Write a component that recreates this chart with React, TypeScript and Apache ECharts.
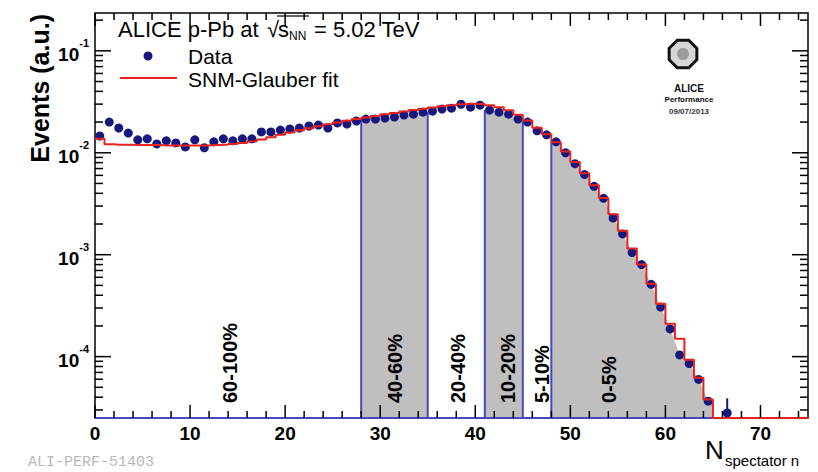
import React, { useEffect, useRef } from "react";
import * as echarts from "echarts";

// Spectator-neutron multiplicity, unit-width bins starting at 0 (value per bin)
const dataValues: (number | null)[] = [
  0.0146, 0.02, 0.0175, 0.0156, 0.0134, 0.0137, 0.0122, 0.0131, 0.0125, 0.0114,
  0.0134, 0.0112, 0.0128, 0.0137, 0.0131, 0.0137, 0.0137, 0.016, 0.016, 0.0167,
  0.0171, 0.0175, 0.0183, 0.0187, 0.0175, 0.0196, 0.0191, 0.0205, 0.0214, 0.0214,
  0.0219, 0.0224, 0.0234, 0.0239, 0.025, 0.0256, 0.0268, 0.0274, 0.0299, 0.028,
  0.0293, 0.0262, 0.025, 0.0239, 0.0214, 0.02, 0.0164, 0.015, 0.0128, 0.01,
  0.00782, 0.00611, 0.00468, 0.00357, 0.00229, 0.0016, 0.00105, 0.0008, 0.000512, 0.000306,
  0.000187, 0.000104, 0.0000855, 0.0000598, 0.0000366, null, 0.000028,
];
// upper error of the last populated bin
const lastBinErrorUp = 0.000011;

// SNM-Glauber fit, one value per bin (0..74); the tail sits on the axis floor
const fitValues: number[] = [
  0.0137, 0.0121, 0.012, 0.012, 0.0119, 0.0119, 0.0119, 0.0118, 0.0118, 0.0118,
  0.0118, 0.0118, 0.0119, 0.012, 0.0122, 0.0125, 0.0129, 0.0135, 0.0142, 0.015,
  0.0158, 0.0166, 0.0174, 0.0182, 0.019, 0.0198, 0.0206, 0.0214, 0.0222, 0.023,
  0.0238, 0.0246, 0.0254, 0.0262, 0.027, 0.0278, 0.0286, 0.0293, 0.0299, 0.0302,
  0.03, 0.0292, 0.0279, 0.0261, 0.0236, 0.0207, 0.0176, 0.0152, 0.0127, 0.0103,
  0.0081, 0.0063, 0.0048, 0.0036, 0.0025, 0.00172, 0.00115, 0.0008, 0.00052, 0.00033,
  0.00021, 0.00015, 0.000093, 0.000062, 0.000038, 0.000025, 0.000025, 0.000025, 0.000025, 0.000025,
  0.000025, 0.000025, 0.000025, 0.000025, 0.000025,
];

// centrality class boundaries (in N) and the shaded classes
const classEdges = [28, 35, 41, 45, 48];
const shadedClasses: [number, number][] = [
  [28, 35],
  [41, 45],
  [48, 65],
];
const classLabels = ["60-100%", "40-60%", "20-40%", "10-20%", "5-10%", "0-5%"];
const classLabelX = [230, 395, 458, 508, 542, 609];

// axis ranges and tick marks
const X_MIN = 0;
const X_MAX = 75;
const Y_MIN = 2.5e-5;
const Y_MAX = 0.235;
const xMajorTicks = [0, 10, 20, 30, 40, 50, 60, 70];
const xMinorTicks: number[] = [];
for (let v = 2; v < X_MAX; v += 2) if (v % 10 !== 0) xMinorTicks.push(v);
const yMajorTicks = [1e-4, 1e-3, 1e-2, 1e-1];
const yMinorTicks: number[] = [];
for (let e = -5; e <= -1; e++) {
  for (let m = 2; m <= 9; m++) {
    const v = m * Math.pow(10, e);
    if (v > Y_MIN && v < Y_MAX) yMinorTicks.push(v);
  }
}

const FONT = "'Liberation Sans', Arial, Helvetica, sans-serif";
const DATA_COLOR = "#17177e";
const FIT_COLOR = "#e8231e";
const CLASS_COLOR = "#4848c0";
const FILL_COLOR = "#bfbfbf";

function xTickRenderer(len: number) {
  return (params: any, api: any) => {
    const cs = params.coordSys;
    const p = api.coord([api.value(0), Y_MIN]);
    const bottom = cs.y + cs.height;
    const top = cs.y;
    return {
      type: "group",
      children: [
        { type: "line", shape: { x1: p[0], y1: bottom, x2: p[0], y2: bottom - len }, style: { stroke: "#000", lineWidth: 1.5 } },
        { type: "line", shape: { x1: p[0], y1: top, x2: p[0], y2: top + len }, style: { stroke: "#000", lineWidth: 1.5 } },
      ],
    };
  };
}

function yTickRenderer(len: number) {
  return (params: any, api: any) => {
    const cs = params.coordSys;
    const p = api.coord([X_MIN, api.value(1)]);
    const left = cs.x;
    const right = cs.x + cs.width;
    return {
      type: "group",
      children: [
        { type: "line", shape: { x1: left, y1: p[1], x2: left + len, y2: p[1] }, style: { stroke: "#000", lineWidth: 1.5 } },
        { type: "line", shape: { x1: right, y1: p[1], x2: right - len, y2: p[1] }, style: { stroke: "#000", lineWidth: 1.5 } },
      ],
    };
  };
}

function text(x: number, y: number, str: string, size: number, extra: any = {}, elExtra: any = {}) {
  return {
    type: "text",
    x,
    y,
    z: 100,
    ...elExtra,
    style: { text: str, fontFamily: FONT, fontSize: size, fill: "#000", align: "left", verticalAlign: "middle", ...extra },
  };
}

function buildOption() {
  const series: any[] = [];

  // shaded centrality classes, filled below the measured distribution
  shadedClasses.forEach(([a, b]) => {
    const pts: number[][] = [];
    const first = dataValues[a] as number;
    pts.push([a, first]);
    let last = first;
    for (let n = a; n < b; n++) {
      const v = dataValues[n];
      if (v == null) continue;
      pts.push([n + 0.5, v]);
      last = v;
    }
    pts.push([b, last]);
    series.push({
      type: "line",
      data: pts,
      symbol: "none",
      lineStyle: { width: 0 },
      areaStyle: { color: FILL_COLOR, opacity: 1, origin: "start" },
      silent: true,
      z: 1,
    });
  });

  // class boundaries
  classEdges.forEach((edge) => {
    const inside = shadedClasses.find(([a, b]) => edge === a || edge === b);
    let bin = edge;
    if (inside && edge === inside[1]) bin = edge - 1;
    const top = dataValues[bin] as number;
    series.push({
      type: "line",
      data: [
        [edge, Y_MIN],
        [edge, top],
      ],
      symbol: "none",
      lineStyle: { color: CLASS_COLOR, width: 2 },
      silent: true,
      clip: false,
      z: 2,
    });
  });

  // lower outline of the class histograms
  series.push({
    type: "line",
    data: [
      [X_MIN, Y_MIN],
      [shadedClasses[shadedClasses.length - 1][1], Y_MIN],
    ],
    symbol: "none",
    lineStyle: { color: CLASS_COLOR, width: 2 },
    silent: true,
    clip: false,
    z: 2,
  });

  // measured distribution
  const pts: number[][] = [];
  dataValues.forEach((v, i) => {
    if (v != null) pts.push([i + 0.5, v]);
  });
  series.push({
    type: "scatter",
    data: pts,
    symbol: "circle",
    symbolSize: 9,
    itemStyle: { color: DATA_COLOR, opacity: 1 },
    silent: true,
    z: 4,
  });
  const lastIdx = dataValues.length - 1;
  const lastVal = dataValues[lastIdx] as number;
  series.push({
    type: "line",
    data: [
      [lastIdx + 0.5, lastVal],
      [lastIdx + 0.5, lastVal + lastBinErrorUp],
    ],
    symbol: "none",
    lineStyle: { color: DATA_COLOR, width: 2 },
    silent: true,
    z: 4,
  });

  // fit histogram
  const fitPts: number[][] = [[X_MIN, fitValues[0]]];
  fitValues.forEach((v, i) => fitPts.push([i + 0.5, v]));
  fitPts.push([X_MAX, fitValues[fitValues.length - 1]]);
  series.push({
    type: "line",
    data: fitPts,
    step: "middle",
    symbol: "none",
    lineStyle: { color: FIT_COLOR, width: 2 },
    silent: true,
    clip: false,
    z: 5,
  });

  // frame ticks on all four sides
  series.push({ type: "custom", renderItem: xTickRenderer(13), data: xMajorTicks.map((v) => [v, Y_MIN]), silent: true, z: 6 });
  series.push({ type: "custom", renderItem: xTickRenderer(7), data: xMinorTicks.map((v) => [v, Y_MIN]), silent: true, z: 6 });
  series.push({ type: "custom", renderItem: yTickRenderer(16), data: yMajorTicks.map((v) => [X_MIN, v]), silent: true, z: 6 });
  series.push({ type: "custom", renderItem: yTickRenderer(8), data: yMinorTicks.map((v) => [X_MIN, v]), silent: true, z: 6 });

  // octagon of the experiment logo
  const oct: number[][] = [];
  for (let k = 0; k < 8; k++) {
    const a = (Math.PI / 8) * (2 * k + 1);
    oct.push([683 + 15 * Math.cos(a), 54 + 15 * Math.sin(a)]);
  }

  const graphic: any[] = [
    text(40, 14, "Events (a.u.)", 25, { fontWeight: "bold", align: "right" }, { rotation: Math.PI / 2 }),
    text(705, 463, "N", 26, { verticalAlign: "bottom" }),
    text(725, 468, "spectator n", 15, { verticalAlign: "bottom" }),
    text(28, 462, "ALI-PERF-51403", 15, { fontFamily: "'Liberation Mono', 'DejaVu Sans Mono', monospace", fill: "#b8b8b8" }),
    // header
    text(118, 29, "ALICE p-Pb at", 22),
    text(267, 29, "√", 22),
    { type: "line", z: 100, shape: { x1: 277, y1: 16, x2: 309, y2: 16 }, style: { stroke: "#000", lineWidth: 1.2 } },
    text(278, 29, "s", 22),
    text(289, 36, "NN", 12),
    text(314, 29, "= 5.02 TeV", 22),
    // legend
    { type: "circle", z: 100, shape: { cx: 148, cy: 56, r: 4.5 }, style: { fill: DATA_COLOR } },
    text(188, 56, "Data", 21),
    { type: "line", z: 100, shape: { x1: 120, y1: 78, x2: 177, y2: 78 }, style: { stroke: FIT_COLOR, lineWidth: 2 } },
    text(188, 79, "SNM-Glauber fit", 21),
    // logo
    { type: "polygon", z: 100, shape: { points: oct }, style: { fill: "#d6d6d6", stroke: "#111", lineWidth: 3 } },
    { type: "circle", z: 100, shape: { cx: 683, cy: 54, r: 6 }, style: { fill: "#9a9a9a" } },
    text(689, 88, "ALICE", 10, { fontWeight: "bold", align: "center", fill: "#111" }),
    text(689, 99, "Performance", 8, { fontWeight: "bold", align: "center", fill: "#111" }),
    text(689, 111, "09/07/2013", 8, { fontWeight: "bold", align: "center", fill: "#333" }),
  ];

  classLabels.forEach((label, i) => {
    graphic.push(text(classLabelX[i], 403, label, 20, { fontWeight: "bold" }, { rotation: Math.PI / 2 }));
  });

  return {
    animation: false,
    grid: {
      left: 95,
      right: 10,
      top: 13,
      bottom: 54,
      show: true,
      borderColor: "#000",
      borderWidth: 1.5,
      backgroundColor: "transparent",
    },
    xAxis: {
      type: "value",
      min: X_MIN,
      max: X_MAX,
      interval: 10,
      axisLine: { show: false },
      axisTick: { show: false },
      splitLine: { show: false },
      axisLabel: {
        margin: 6,
        fontFamily: FONT,
        fontWeight: "bold",
        fontSize: 19,
        color: "#000",
        showMaxLabel: false,
        formatter: (v: number) => (v % 10 === 0 ? String(v) : ""),
      },
    },
    yAxis: {
      type: "log",
      logBase: 10,
      min: Y_MIN,
      max: Y_MAX,
      axisLine: { show: false },
      axisTick: { show: false },
      splitLine: { show: false },
      axisLabel: {
        margin: 6,
        color: "#000",
        formatter: (v: number) => {
          const e = Math.log10(v);
          const r = Math.round(e);
          if (Math.abs(e - r) > 1e-6) return "";
          return `{b|10}{s|${r}}`;
        },
        rich: {
          b: { fontFamily: FONT, fontWeight: "bold", fontSize: 19, lineHeight: 26, verticalAlign: "bottom", color: "#000" },
          s: { fontFamily: FONT, fontWeight: "bold", fontSize: 11, lineHeight: 12, verticalAlign: "top", color: "#000" },
        },
      },
    },
    series,
    graphic,
  };
}

export default function App() {
  const ref = useRef<HTMLDivElement>(null);
  useEffect(() => {
    if (!ref.current) return;
    const chart = echarts.init(ref.current, undefined, { renderer: "svg" });
    chart.setOption(buildOption() as any);
    return () => chart.dispose();
  }, []);
  return <div ref={ref} style={{ width: 818, height: 472, position: "absolute", left: 0, top: 0, background: "#fff" }} />;
}
